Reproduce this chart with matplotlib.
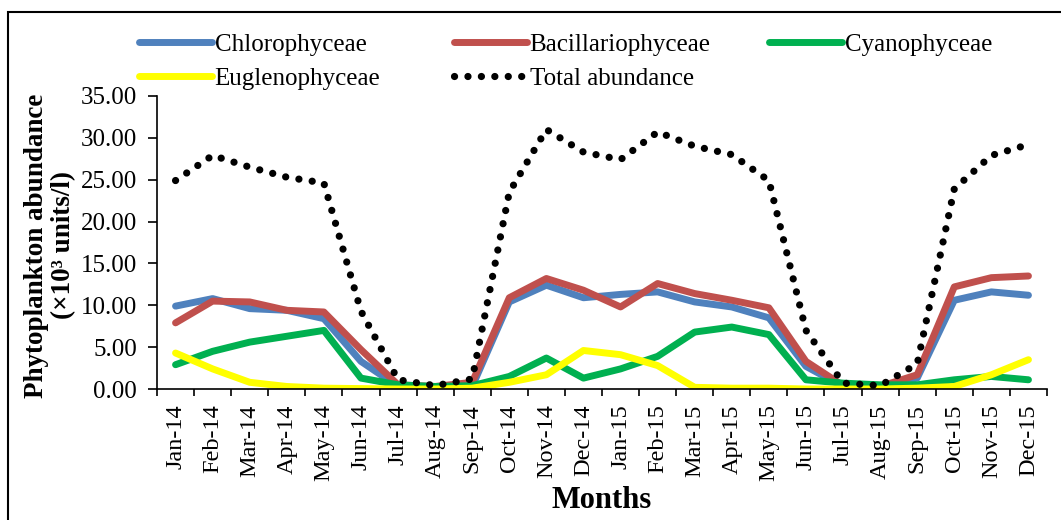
import numpy as np
import matplotlib
matplotlib.use('Agg')
import matplotlib.pyplot as plt
from matplotlib.patches import Rectangle
from matplotlib.ticker import FormatStrFormatter, FixedLocator

plt.rcParams['font.family'] = ['Liberation Serif', 'DejaVu Serif']

months = ['Jan-14', 'Feb-14', 'Mar-14', 'Apr-14', 'May-14', 'Jun-14', 'Jul-14', 'Aug-14',
          'Sep-14', 'Oct-14', 'Nov-14', 'Dec-14', 'Jan-15', 'Feb-15', 'Mar-15', 'Apr-15',
          'May-15', 'Jun-15', 'Jul-15', 'Aug-15', 'Sep-15', 'Oct-15', 'Nov-15', 'Dec-15']

chloro = [9.9, 10.8, 9.6, 9.4, 8.4, 3.3, 0.3, 0.2, 0.3, 10.4, 12.4, 10.9,
          11.3, 11.6, 10.4, 9.8, 8.5, 2.7, 0.3, 0.3, 1.3, 10.6, 11.6, 11.2]
bacil = [7.9, 10.5, 10.4, 9.4, 9.2, 4.7, 0.5, 0.3, 0.8, 10.9, 13.2, 11.8,
         9.8, 12.6, 11.4, 10.6, 9.7, 3.3, 0.4, 0.3, 1.7, 12.2, 13.3, 13.5]
cyano = [2.9, 4.5, 5.6, 6.3, 7.0, 1.3, 0.5, 0.3, 0.4, 1.5, 3.7, 1.3,
         2.4, 3.9, 6.8, 7.4, 6.5, 1.1, 0.7, 0.5, 0.5, 1.1, 1.5, 1.1]
eugl = [4.3, 2.4, 0.8, 0.3, 0.1, 0.05, 0.0, 0.0, 0.1, 0.8, 1.7, 4.6,
        4.1, 2.8, 0.2, 0.1, 0.1, 0.0, 0.0, 0.0, 0.1, 0.3, 1.7, 3.5]
total = [24.9, 27.9, 26.5, 25.3, 24.6, 9.3, 1.1, 0.4, 1.2, 23.5, 31.0, 28.3,
         27.4, 30.7, 29.0, 28.0, 24.9, 7.0, 0.7, 0.4, 3.0, 23.9, 27.9, 29.2]

x = np.arange(len(months))

fig = plt.figure(figsize=(10.61, 5.20), dpi=100)
ax = fig.add_axes([157/1061, 1 - 389/520, (1047 - 157)/1061, (389 - 96)/520])

lw = 5
h_chl, = ax.plot(x, chloro, color='#4F81BD', lw=lw, solid_capstyle='round', label='Chlorophyceae')
h_bac, = ax.plot(x, bacil, color='#C0504D', lw=lw, solid_capstyle='round', label='Bacillariophyceae')
h_cya, = ax.plot(x, cyano, color='#00B050', lw=lw, solid_capstyle='round', label='Cyanophyceae')
h_eug, = ax.plot(x, eugl, color='#FFFF00', lw=lw, solid_capstyle='round', label='Euglenophyceae')
h_tot, = ax.plot(x, total, color='black', lw=5.2, linestyle=(0, (0.01, 1.85)),
                 dash_capstyle='round', label='Total abundance')

ax.set_xlim(-0.5, len(months) - 0.5)
ax.set_ylim(0, 35)
ax.set_yticks(np.arange(0, 36, 5))
ax.yaxis.set_major_formatter(FormatStrFormatter('%.2f'))
ax.set_xticks(x)
ax.set_xticklabels(months, rotation=90, fontsize=17.5)
ax.xaxis.set_minor_locator(FixedLocator(np.arange(-0.5, len(months), 1)))
ax.tick_params(axis='x', which='major', length=0, pad=11)
ax.tick_params(axis='x', which='minor', length=5, width=1.2, direction='out')
ax.tick_params(axis='y', labelsize=18, length=6.5, width=1.2, direction='out', pad=8)

for s in ['top', 'right']:
    ax.spines[s].set_visible(False)
for s in ['left', 'bottom']:
    ax.spines[s].set_linewidth(1.2)

ax.set_xlabel('Months', fontsize=22, fontweight='bold', va='center')
ax.xaxis.set_label_coords(0.5, (389 - 501) / 293)
ax.set_ylabel('Phytoplankton abundance\n(×10³ units/l)', fontsize=19.5,
              fontweight='bold', linespacing=1.1, va='center')
ax.yaxis.set_label_coords((50 - 157) / 890, 0.49)

# three legend columns on a fixed grid, filled row by row
cols = [[h_chl, h_eug], [h_bac, h_tot], [h_cya]]
col_x = [139, 454, 769]
for handles, cx in zip(cols, col_x):
    leg = fig.legend(handles=handles, loc='upper left',
                     bbox_to_anchor=(cx/1061, 1 - 33/520), frameon=False,
                     fontsize=18, handlelength=2.9, handletextpad=0.12,
                     labelspacing=0.48, borderpad=0, borderaxespad=0)

fig.patches.append(Rectangle((8/1061, -0.01), 1.0, 1 - 12/520 + 0.01,
                             transform=fig.transFigure, fill=False,
                             edgecolor='black', linewidth=1.5))

plt.savefig('out.png', dpi=100)
plt.close()
